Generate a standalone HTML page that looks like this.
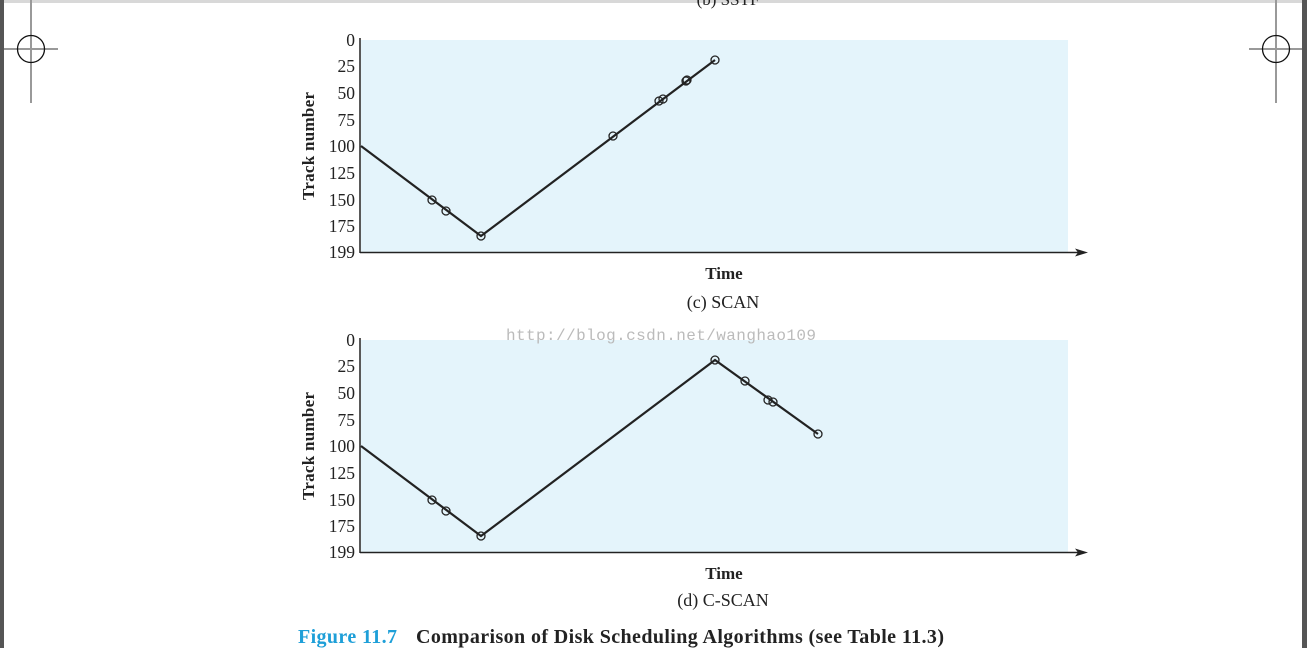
<!DOCTYPE html>
<html><head><style>
body{margin:0;width:1307px;height:648px;overflow:hidden;background:#fff}
svg text{font-family:"Liberation Serif",serif}
</style></head><body>
<svg width="1307" height="648" xmlns="http://www.w3.org/2000/svg">
<rect x="0" y="0" width="1307" height="3" fill="#d8d8d8"/>
<rect x="0" y="0" width="4" height="648" fill="#555"/>
<rect x="1302" y="0" width="5" height="648" fill="#555"/>
<g stroke="#999" stroke-width="2"><line x1="31" y1="0" x2="31" y2="103"/><line x1="4" y1="49" x2="58" y2="49"/>
<line x1="1276" y1="0" x2="1276" y2="103"/><line x1="1249" y1="49" x2="1302" y2="49"/></g>
<circle cx="31" cy="49" r="13.5" fill="none" stroke="#111" stroke-width="1.3"/>
<circle cx="1276" cy="49" r="13.5" fill="none" stroke="#111" stroke-width="1.3"/>
<text x="728" y="5" font-size="17" text-anchor="middle" fill="#222">(b) SSTF</text>

<g id="c1">
<rect x="361" y="40" width="707" height="212" fill="#e4f4fb"/>
<line x1="360" y1="38" x2="360" y2="253" stroke="#222" stroke-width="1.5"/>
<line x1="360" y1="252.5" x2="1080" y2="252.5" stroke="#222" stroke-width="1.5"/>
<polygon points="1088,252.5 1075,248.5 1078,252.5 1075,256.5" fill="#222"/>
<g font-size="17.5" text-anchor="end" fill="#222">
<text x="355" y="46">0</text><text x="355" y="72">25</text><text x="355" y="99">50</text><text x="355" y="126">75</text><text x="355" y="152">100</text><text x="355" y="179">125</text><text x="355" y="206">150</text><text x="355" y="232">175</text><text x="355" y="258">199</text>
</g>
<text transform="translate(314,146) rotate(-90)" font-size="17" font-weight="bold" text-anchor="middle" fill="#222" textLength="108">Track number</text>
<text x="724" y="279" font-size="17" font-weight="bold" text-anchor="middle" fill="#222">Time</text>
</g>
<text x="723" y="308" font-size="18" text-anchor="middle" fill="#222">(c) SCAN</text>
<polyline points="361,146 481,236 715,60" fill="none" stroke="#222" stroke-width="2.2"/>
<g fill="none" stroke="#222" stroke-width="1.3">
<circle cx="432" cy="200" r="4"/><circle cx="446" cy="211" r="4"/><circle cx="481" cy="236" r="4"/><circle cx="613" cy="136" r="4"/><circle cx="659" cy="101" r="4"/><circle cx="663" cy="99" r="4"/><circle cx="686" cy="81" r="4"/><circle cx="687" cy="80" r="4"/><circle cx="715" cy="60" r="4"/>
</g>

<use href="#c1" transform="translate(0,300)"/>
<text x="723" y="606" font-size="18" text-anchor="middle" fill="#222">(d) C-SCAN</text>
<polyline points="361,446 481,536 715,360 818,434" fill="none" stroke="#222" stroke-width="2.2"/>
<g fill="none" stroke="#222" stroke-width="1.3">
<circle cx="432" cy="500" r="4"/><circle cx="446" cy="511" r="4"/><circle cx="481" cy="536" r="4"/><circle cx="715" cy="360" r="4"/><circle cx="745" cy="381" r="4"/><circle cx="768" cy="400" r="4"/><circle cx="773" cy="402" r="4"/><circle cx="818" cy="434" r="4"/>
</g>
<text x="506" y="340" font-size="16" fill="#bbb" textLength="310" style="font-family:'Liberation Mono',monospace">http://blog.csdn.net/wanghao109</text>
<text x="298" y="643" font-size="20" font-weight="bold" fill="#1e9fd8" textLength="99">Figure 11.7</text>
<text x="416" y="643" font-size="20" font-weight="bold" fill="#222" textLength="528">Comparison of Disk Scheduling Algorithms (see Table 11.3)</text>
</svg>
</body></html>
